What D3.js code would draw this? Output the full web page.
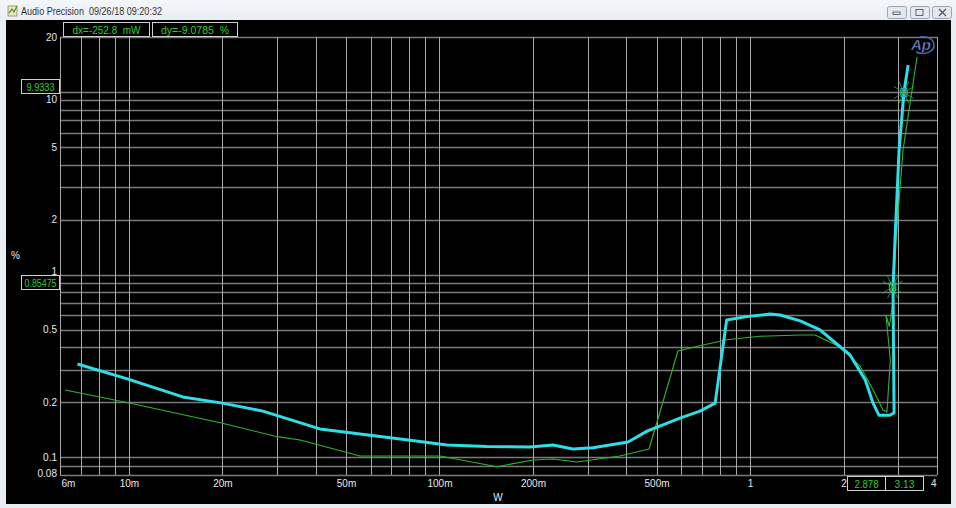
<!DOCTYPE html>
<html><head><meta charset="utf-8">
<script src="https://cdn.jsdelivr.net/npm/d3@7"></script>
<style>
html,body{margin:0;padding:0;background:#e9eef5;overflow:hidden}
svg{display:block;font-family:Arial,"Liberation Sans",sans-serif}
text{white-space:pre}
</style></head>
<body>
<script>
// ---- data ----
const titleText = "Audio Precision  09/26/18 09:20:32";
const xTickValues = [0.006, 0.01, 0.02, 0.05, 0.1, 0.2, 0.5, 1, 2, 4];
const xTickLabels = ["6m", "10m", "20m", "50m", "100m", "200m", "500m", "1", "2", "4"];
const yTickValues = [0.08, 0.1, 0.2, 0.5, 1, 2, 5, 10, 20];
const yTickLabels = ["0.08", "0.1", "0.2", "0.5", "1", "2", "5", "10", "20"];

const cyanW   = [0.00683, 0.00994, 0.0149, 0.0200, 0.0270, 0.0412, 0.0555, 0.0804, 0.1057, 0.1422, 0.1956, 0.232, 0.269, 0.312, 0.405, 0.466, 0.595, 0.690, 0.772, 0.841, 0.976, 1.16, 1.25, 1.45, 1.68, 1.95, 2.10, 2.35, 2.49, 2.60, 2.82, 2.91, 2.887, 2.93, 3.02, 3.13, 3.23];
const cyanPct = [0.324, 0.268, 0.214, 0.198, 0.179, 0.143, 0.134, 0.124, 0.1168, 0.1146, 0.1138, 0.1168, 0.111, 0.1129, 0.1213, 0.139, 0.164, 0.179, 0.198, 0.565, 0.589, 0.609, 0.601, 0.558, 0.498, 0.403, 0.363, 0.265, 0.198, 0.170, 0.170, 0.175, 0.85475, 1.55, 4.81, 9.9333, 14.06];

const greenW   = [0.00623, 0.00994, 0.0200, 0.0300, 0.0356, 0.0555, 0.1004, 0.1532, 0.200, 0.232, 0.277, 0.381, 0.473, 0.586, 0.690, 0.841, 1.077, 1.45, 1.62, 1.95, 2.26, 2.49, 2.68, 2.76, 2.83, 2.74, 2.81, 2.89, 2.95, 3.11, 3.45];
const greenPct = [0.2336, 0.199, 0.1536, 0.1297, 0.1244, 0.1017, 0.1017, 0.0888, 0.0966, 0.0979, 0.0943, 0.1017, 0.111, 0.382, 0.408, 0.440, 0.460, 0.467, 0.467, 0.402, 0.316, 0.234, 0.1816, 0.177, 0.341, 0.60, 0.52, 0.726, 1.55, 4.81, 15.6];

const cursorW   = [2.878, 3.13];
const cursorPct = [0.85475, 9.9333];
const readoutTop = ["dx=-252.8  mW", "dy=-9.0785  %"];
const readoutLeft = ["9.9333", "0.85475"];
const readoutBottom = ["2.878", "3.13"];

// ---- drawing ----
const W = 956, H = 508;
const svg = d3.select("body").append("svg").attr("width", W).attr("height", H);

// window chrome
const defs = svg.append("defs");
const tg = defs.append("linearGradient").attr("id","tb").attr("x1",0).attr("y1",0).attr("x2",0).attr("y2",1);
tg.append("stop").attr("offset","0%").attr("stop-color","#f4f6f9");
tg.append("stop").attr("offset","100%").attr("stop-color","#e9eef4");
svg.append("rect").attr("x",0).attr("y",0).attr("width",W).attr("height",H).attr("fill","#e8edf3");
svg.append("rect").attr("x",0).attr("y",0).attr("width",W).attr("height",21).attr("fill","url(#tb)");
// icon
svg.append("rect").attr("x",8).attr("y",6).attr("width",9).attr("height",10).attr("fill","#ece6c0").attr("stroke","#8a8a60").attr("stroke-width",0.8);
svg.append("path").attr("d","M9,13 L12,9 L14,12 L17,6").attr("fill","none").attr("stroke","#4a9a3a").attr("stroke-width",1.3);
svg.append("text").attr("x",21).attr("y",15).attr("fill","#333")
  .attr("font-family","Arial,'Liberation Sans',sans-serif").attr("font-size",10.5)
  .attr("textLength",141).attr("lengthAdjust","spacingAndGlyphs").text(titleText);
// buttons
[[887,19],[910,19],[932,19]].forEach(([bx,bw])=>{
  svg.append("rect").attr("x",bx+0.5).attr("y",6.5).attr("width",bw).attr("height",12).attr("rx",2)
    .attr("fill","#e4e9f0").attr("stroke","#9aa4b0");
});
svg.append("rect").attr("x",893).attr("y",12).attr("width",7).attr("height",2.5).attr("fill","none").attr("stroke","#505a66").attr("stroke-width",0.9);
svg.append("rect").attr("x",916).attr("y",9.5).attr("width",7).attr("height",6).attr("fill","none").attr("stroke","#505a66").attr("stroke-width",0.9);
svg.append("path").attr("d","M939,9 L946,16 M946,9 L939,16").attr("stroke","#505a66").attr("stroke-width",1.3);

// black panel
svg.append("rect").attr("x",6).attr("y",20).attr("width",945).attr("height",484).attr("fill","#000");

const x = d3.scaleLog().domain([0.006, 4]).range([60, 937]);
const y = d3.scaleLog().domain([0.08, 20]).range([475, 37]);

// grid values
const gx = [], gy = [];
for (let e = -3; e <= 0; e++) for (let m = 1; m <= 9; m++) {
  const v = +(m * Math.pow(10, e)).toPrecision(6);
  if (v >= 0.006 - 1e-9 && v <= 4 + 1e-9) gx.push(v);
}
for (let e = -2; e <= 1; e++) for (let m = 1; m <= 9; m++) {
  const v = +(m * Math.pow(10, e)).toPrecision(6);
  if (v >= 0.08 - 1e-9 && v <= 20 + 1e-9) gy.push(v);
}
const grid = svg.append("g");
grid.selectAll(".gh").data(gy).join("line")
  .attr("x1", 60).attr("x2", 937)
  .attr("y1", d => Math.round(y(d)) + 0.5).attr("y2", d => Math.round(y(d)) + 0.5)
  .attr("stroke", "#7a7a7a").attr("stroke-width", 1.4);
grid.selectAll(".gv").data(gx).join("line")
  .attr("y1", 37).attr("y2", 475)
  .attr("x1", d => Math.round(x(d)) + 0.5).attr("x2", d => Math.round(x(d)) + 0.5)
  .attr("stroke", "#a8a8a8").attr("stroke-width", 1);

// axes labels via d3 axes
const labelFont = "Arial,'Liberation Sans',sans-serif";
const xAxis = d3.axisBottom(x).tickValues(xTickValues)
  .tickFormat((d, i) => xTickLabels[i]).tickSize(0).tickPadding(5);
const gxA = svg.append("g").attr("transform", "translate(0,475)").call(xAxis);
gxA.select(".domain").remove();
gxA.selectAll("text").attr("fill", "#e8e8e8").attr("font-size", 10).attr("font-family", labelFont);
gxA.selectAll(".tick").filter(d => d === 0.006).select("text").attr("text-anchor", "start").attr("dx", 1);
gxA.selectAll(".tick").filter(d => d === 4).select("text").attr("text-anchor", "end").attr("dx", -1);

const yAxis = d3.axisLeft(y).tickValues(yTickValues)
  .tickFormat((d, i) => yTickLabels[i]).tickSize(0).tickPadding(3);
const gyA = svg.append("g").attr("transform", "translate(60,0)").call(yAxis);
gyA.select(".domain").remove();
gyA.selectAll("text").attr("fill", "#e8e8e8").attr("font-size", 10).attr("font-family", labelFont);
gyA.selectAll(".tick").filter(d => d === 0.08).select("text").attr("dy", "0.1em");
gyA.selectAll(".tick").filter(d => d === 1).select("text").attr("dy", "-0.05em");
// "10" sits just below the cursor readout box that covers its tick
gyA.selectAll(".tick").filter(d => d === 10).select("text").attr("dy", "1.02em");

svg.append("text").attr("x", 11).attr("y", 259).attr("fill", "#e8e8e8").attr("font-size", 10).text("%");
svg.append("text").attr("x", 498).attr("y", 501).attr("fill", "#e8e8e8").attr("font-size", 10).attr("text-anchor", "middle").text("W");

// traces
const plotClip = defs.append("clipPath").attr("id", "pc");
plotClip.append("rect").attr("x", 60).attr("y", 37).attr("width", 877).attr("height", 438);
const line = d3.line().x(d => x(d[0])).y(d => y(d[1]));
svg.append("path").datum(greenW.map((w, i) => [w, greenPct[i]]))
  .attr("d", line).attr("fill", "none").attr("stroke", "#2fb52f").attr("stroke-width", 1.1)
  .attr("stroke-linejoin", "round").attr("clip-path", "url(#pc)");
svg.append("path").datum(cyanW.map((w, i) => [w, cyanPct[i]]))
  .attr("d", line).attr("fill", "none").attr("stroke", "#2fdde6").attr("stroke-width", 3)
  .attr("stroke-linejoin", "round").attr("clip-path", "url(#pc)");

// cursor markers
cursorW.forEach((w, i) => {
  const cx = x(w), cy = y(cursorPct[i]);
  const g = svg.append("g").attr("transform", `translate(${cx},${cy})`);
  [[-10, -6, 10, 6], [-10, 6, 10, -6], [-5, -11, 5, 11], [-5, 11, 5, -11]].forEach(s => {
    g.append("line").attr("x1", s[0]).attr("y1", s[1]).attr("x2", s[2]).attr("y2", s[3])
      .attr("stroke", "#2fb52f").attr("stroke-width", 0.8);
  });
  g.append("rect").attr("x", -3).attr("y", -4).attr("width", 6).attr("height", 8)
    .attr("fill", "none").attr("stroke", "#3aa0e0").attr("stroke-width", 1);
  g.append("circle").attr("r", 3.5).attr("fill", "none").attr("stroke", "#2fb52f").attr("stroke-width", 0.8);
});

// AP logo
const logo = svg.append("g").attr("transform", "translate(922,45)");
logo.append("path").attr("d", "M-6,7 C4,11 13,6 12,-1 C11,-7 4,-9 -2,-8")
  .attr("fill", "none").attr("stroke", "#5566bb").attr("stroke-width", 1.4);
logo.append("text").attr("x", -1).attr("y", 5).attr("text-anchor", "middle").attr("font-size", 15)
  .attr("font-style", "italic").attr("font-weight", "bold").attr("fill", "#7788d8").attr("stroke", "#000").attr("stroke-width", 0.5).text("Ap");

// readout boxes
function box(x0, y0, w, h, txt, tl) {
  svg.append("rect").attr("x", x0 + 0.5).attr("y", y0 + 0.5).attr("width", w).attr("height", h)
    .attr("fill", "#000").attr("stroke", "#d0d0d0").attr("stroke-width", 1);
  const t = svg.append("text").attr("x", x0 + w / 2 + 0.5).attr("y", y0 + h / 2 + 4.5).attr("text-anchor", "middle")
    .attr("fill", "#2ecc2e").attr("font-size", 10.5).attr("font-family", labelFont).text(txt);
  if (tl) t.attr("textLength", tl).attr("lengthAdjust", "spacingAndGlyphs");
}
box(63, 22, 86, 14, readoutTop[0], 68);
box(152, 22, 85, 14, readoutTop[1], 68);
box(21, 79, 38, 14, readoutLeft[0], 28);
box(21, 275, 38, 14, readoutLeft[1], 32);
box(847, 476, 38, 14, readoutBottom[0], 24);
box(885, 476, 38, 14, readoutBottom[1], 20);
</script>
</body></html>
